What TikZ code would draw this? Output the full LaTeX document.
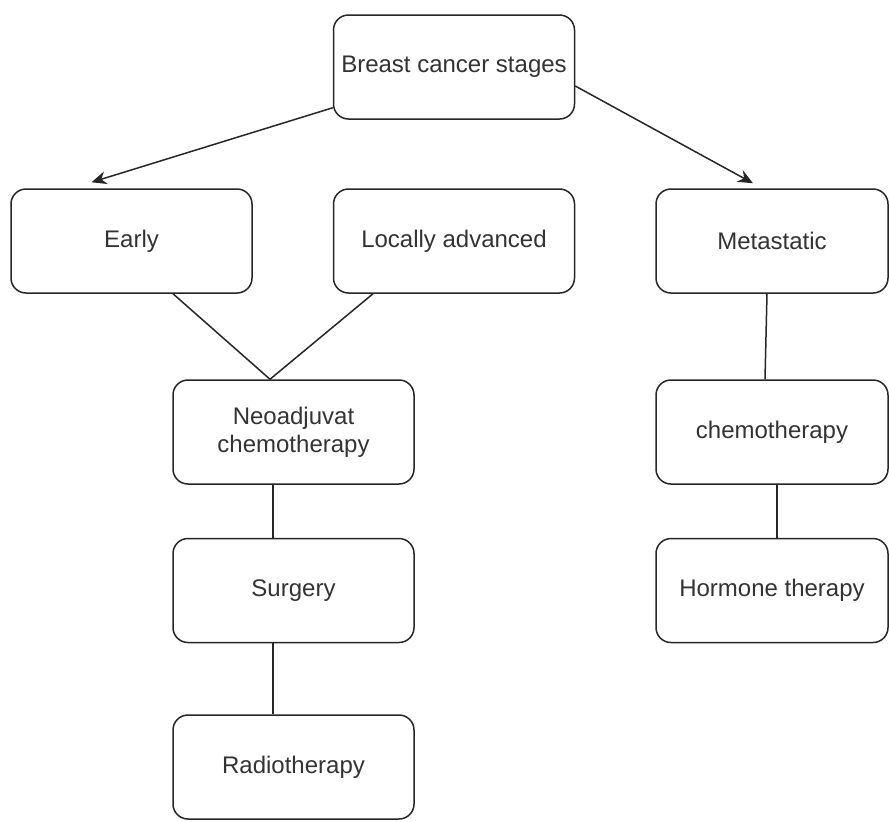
\documentclass[tikz,border=0pt]{standalone}
\usepackage{fontspec}
\setmainfont{Liberation Sans}
\usetikzlibrary{arrows.meta, positioning}
\definecolor{txtgray}{HTML}{333333}
\tikzset{
stage/.style={draw=black!85, line width=0.75pt, rounded corners=7.5pt, fill=white,
  minimum width=120.5pt, minimum height=52pt, align=center,
  text=txtgray, font=\fontsize{12}{14}\selectfont}, % every box of the chart
link/.style={draw=black!85, line width=0.75pt}, % plain connector
branch/.style={link, -{Stealth[length=7.5pt, width=6.5pt]}}, % connector with arrow
}
\begin{document}
\begin{tikzpicture}[x=0.5pt, y=-0.5pt, node distance=26.5pt]
    % stages of breast cancer and their treatments
    \useasboundingbox (0,0) rectangle (889,821);
    \node[stage] (stages) at (454,67) {Breast cancer stages};
    \node[stage] (early) at (131.5,241) {Early};
    \node[stage] (local) at (454,241) {Locally advanced};
    \node[stage, minimum width=116pt] (meta) at (772,241) {Metastatic};
    \node[stage] (neo) at (293.5,432) {Neoadjuvat\\chemotherapy};
    \node[stage] (surgery) [below=of neo] {Surgery};
    \node[stage] (radio) [below=35.5pt of surgery] {Radiotherapy};
    \node[stage, minimum width=116pt] (chemo) at (772,432) {chemotherapy};
    \node[stage, minimum width=116pt] (hormone) [below=of chemo] {Hormone therapy};

    \draw [branch] ([yshift=6pt]stages.south west) -- ([xshift=-20pt, yshift=3pt]early.north);
    \draw [branch] ([yshift=-9.5pt]stages.east) -- ([xshift=-9.5pt, yshift=2.5pt]meta.north);
    \draw [link] ([xshift=20.75pt]early.south) -- ([xshift=-11.75pt]neo.north);
    \draw [link] ([xshift=-40.5pt]local.south) -- ([xshift=-11.75pt]neo.north);
    \draw [link] ([xshift=-2.5pt]meta.south) -- ([xshift=-3.5pt]chemo.north);
    \draw [link] ([xshift=-10.25pt]neo.south) -- ([xshift=-10.25pt]surgery.north);
    \draw [link] ([xshift=-10.25pt]surgery.south) -- ([xshift=-10.25pt]radio.north);
    \draw [link] ([xshift=2.5pt]chemo.south) -- ([xshift=2.5pt]hormone.north);
\end{tikzpicture}
\end{document}
